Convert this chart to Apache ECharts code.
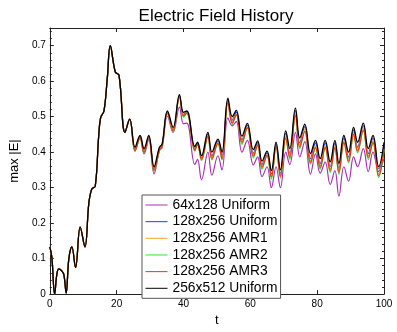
<!DOCTYPE html>
<html><head><meta charset="utf-8">
<script src="https://cdn.jsdelivr.net/npm/echarts@6/dist/echarts.min.js"></script>
<style>html,body{margin:0;padding:0;background:#fff}#c{width:397px;height:332px}</style>
</head><body><div id="c"></div>
<script>
const tKnots = [0,0.6,1.45,2.1,2.7,3.5,4.2,4.9,5.7,6.6,
7.7,9.1,10.5,11.7,12.6,13.6,14.6,15.2,16.2,17.2,
18.1,19.6,20.7,22.5,23.9,
25.5,27.0,28.2,29.6,31.2,32.8,33.6,35.2,36.9,38.8,
40.0,41.0,43.4,44.2,45.4,47.3,48.5,50.3,51.5,53.3,
54.6,55.8,57.5,59.1,60.9,62.2,63.5,65.0,66.3,67.7,
69.0,70.6,71.8,73.5,74.8,76.3,78.0,79.5,80.9,82.4,
83.9,85.3,86.5,88.0,89.4,90.9,92.1,93.8,95.3,96.7,
98.4,100];
const earlyVals = [.133,.105,0,.055,.071,.066,.055,.003,.10,.133,
.075,.189,.133,.258,.297,.304,.442,.497,.516,.608,
.70,.626,.617,.456,.493];
const late64U = [.405,.44,.395,.435,.339,.405,.413,.502,.456,.527,
.48,.482,.365,.38,.322,.40,.335,.39,.35,.497,
.474,.487,.40,.433,.364,.387,.331,.359,.30,.359,
.30,.40,.365,.456,.387,.43,.338,.395,.341,.372,
.309,.348,.276,.359,.318,.387,.359,.41,.345,.40,
.354,.38];
const late128U = [.408,.444,.404,.444,.353,.410,.420,.513,.464,.559,
.506,.513,.410,.425,.384,.451,.39,.432,.39,.547,
.49,.513,.435,.476,.397,.427,.365,.398,.338,.423,
.34,.453,.396,.517,.426,.472,.382,.426,.368,.426,
.359,.426,.354,.440,.386,.463,.414,.475,.396,.440,
.345,.421];
const late128A1 = [.406,.443,.402,.443,.351,.407,.418,.511,.462,.557,
.504,.511,.408,.423,.382,.446,.385,.427,.385,.542,
.485,.508,.430,.471,.392,.422,.360,.393,.333,.418,
.335,.445,.390,.509,.420,.464,.376,.418,.362,.418,
.353,.418,.348,.432,.380,.455,.408,.467,.390,.432,
.339,.410];
const late128A2 = [.402,.441,.398,.441,.346,.404,.416,.510,.457,.556,
.499,.510,.403,.422,.376,.444,.378,.425,.378,.540,
.478,.506,.422,.469,.384,.420,.352,.391,.325,.416,
.327,.440,.380,.504,.410,.459,.366,.413,.352,.413,
.343,.413,.338,.427,.370,.450,.398,.462,.380,.427,
.329,.405];
const late128A3 = [.404,.441,.40,.441,.349,.405,.416,.510,.460,.556,
.502,.510,.406,.422,.38,.444,.382,.425,.382,.540,
.482,.506,.427,.469,.389,.420,.357,.391,.330,.416,
.332,.440,.385,.504,.415,.459,.371,.413,.357,.413,
.348,.413,.343,.427,.375,.450,.403,.462,.385,.427,
.334,.405];
const late256U = [.414,.447,.41,.447,.359,.414,.423,.516,.470,.562,
.512,.516,.416,.428,.39,.456,.40,.437,.40,.552,
.50,.518,.445,.481,.407,.432,.375,.403,.348,.428,
.35,.46,.41,.524,.44,.479,.396,.433,.382,.433,
.373,.433,.368,.447,.40,.47,.428,.482,.41,.447,
.359,.428];
const seriesNames = ['64x128 Uniform','128x256 Uniform','128x256 AMR1','128x256 AMR2','128x256 AMR3','256x512 Uniform'];
const seriesLate = [late64U, late128U, late128A1, late128A2, late128A3, late256U];
const seriesColors = ['#a832b4','#1f3cff','#f5a623','#22ee22','#ff2a1a','#000000'];
const xTicks = [0,20,40,60,80,100];
const yTicks = [0,0.1,0.2,0.3,0.4,0.5,0.6,0.7];

const chart = echarts.init(document.getElementById('c'), null, {renderer:'canvas'});
const F = 'Liberation Sans, Arial, Helvetica, sans-serif';
const axCol = '#222';
const series = seriesNames.map((n,i)=>{
  const vals = earlyVals.concat(seriesLate[i]);
  return {
    name:n, type:'line', smooth:0.4, symbol:'none', showSymbol:false, xAxisIndex:0, yAxisIndex:0,
    data: tKnots.map((t,k)=>[t, vals[k]]),
    lineStyle:{color:seriesColors[i], width: i===5?1.3:1.2},
    itemStyle:{color:seriesColors[i]},
    z: 2+i, animation:false
  };
});
const xBase = {type:'value', min:0, max:100, interval:20,
  axisLine:{show:true, onZero:false, lineStyle:{color:axCol,width:1}},
  axisTick:{show:true, inside:true, length:4, lineStyle:{color:axCol}},
  splitLine:{show:false}};
const yBase = {type:'value', min:0, max:0.75, interval:0.1,
  axisLine:{show:true, onZero:false, lineStyle:{color:axCol,width:1}},
  axisTick:{show:true, inside:true, length:4, lineStyle:{color:axCol}},
  minorTick:{show:true, splitNumber:5, length:2, lineStyle:{color:axCol}},
  splitLine:{show:false}};
chart.setOption({
  animation:false,
  backgroundColor:'#fff',
  title:{text:'Electric Field History', left:211, top:3, textAlign:'center',
    textStyle:{fontFamily:F, fontSize:17, fontWeight:'normal', color:'#000'}},
  grid:{left:38.3, right:13, top:28, bottom:32, containLabel:false},
  legend:{show:true, orient:'vertical', left:142, top:195,
    itemWidth:22, itemHeight:14, itemGap:2.66,
    padding:[3,3,3,3], backgroundColor:'#fff', borderColor:'#555', borderWidth:1,
    textStyle:{fontFamily:F, fontSize:13.8, color:'#000'},
    itemStyle:{opacity:0}, lineStyle:{width:1},
    selectedMode:false, z:20},
  xAxis:[Object.assign({}, xBase, {position:'bottom', name:'t', nameLocation:'middle', nameGap:16,
      nameTextStyle:{fontFamily:F, fontSize:13, color:'#000'},
      axisLabel:{show:true, fontFamily:F, fontSize:10, color:'#000', margin:5,
        formatter:v=> xTicks.includes(v)? String(v):''}}),
    Object.assign({}, xBase, {position:'top', axisLabel:{show:false}})],
  yAxis:[Object.assign({}, yBase, {position:'left', name:'max |E|', nameLocation:'middle', nameGap:26,
      nameTextStyle:{fontFamily:F, fontSize:13, color:'#000'},
      axisLabel:{show:true, fontFamily:F, fontSize:10, color:'#000', margin:4, showMaxLabel:false,
        formatter:v=>{ const r=Math.round(v*10)/10; return yTicks.some(y=>Math.abs(y-v)<1e-9)? (r===0?'0':r.toFixed(1)):''; }}}),
    Object.assign({}, yBase, {position:'right', axisLabel:{show:false}})],
  series: series
});
</script></body></html>
